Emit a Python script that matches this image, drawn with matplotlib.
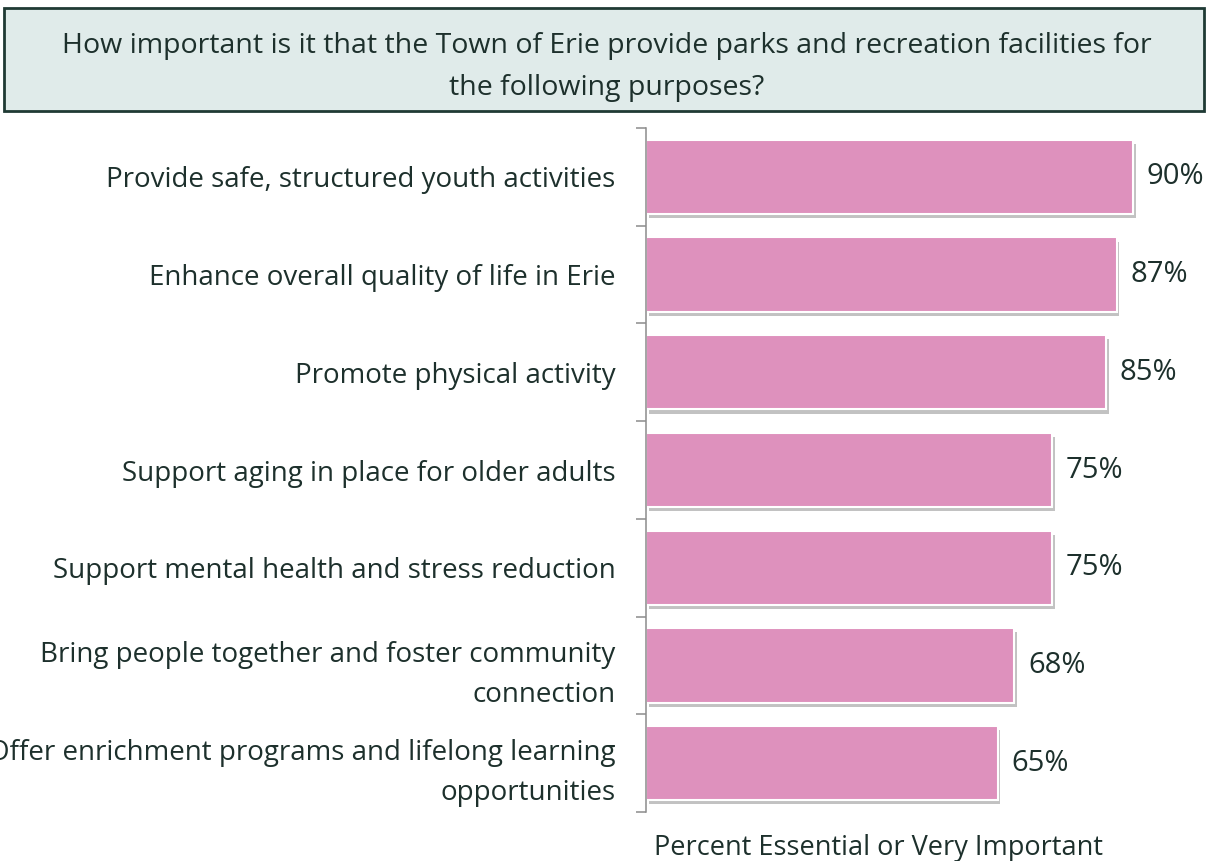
import matplotlib
matplotlib.use('Agg')
import matplotlib.pyplot as plt
import matplotlib.patheffects as pe
from matplotlib.patches import Rectangle

categories = [
    "Provide safe, structured youth activities",
    "Enhance overall quality of life in Erie",
    "Promote physical activity",
    "Support aging in place for older adults",
    "Support mental health and stress reduction",
    "Bring people together and foster community\nconnection",
    "Offer enrichment programs and lifelong learning\nopportunities",
]
values = [90, 87, 85, 75, 75, 68, 65]
title = ("How important is it that the Town of Erie provide parks and recreation facilities for\n"
         "the following purposes?")
xlabel = "Percent Essential or Very Important"

W, H = 1209, 861
text_color = '#1d302c'
bar_color = '#de91bd'
plt.rcParams['font.family'] = ['Open Sans', 'DejaVu Sans']

fig = plt.figure(figsize=(W / 100, H / 100), dpi=100)

# title box
fig.patches.append(Rectangle((4 / W, 1 - 111 / H), 1200 / W, 103 / H, transform=fig.transFigure,
                             facecolor='#e0ebea', edgecolor='#1f3a34', linewidth=2, zorder=0))
fig.text(607 / W, 1 - 67 / H, title, ha='center', va='center', fontsize=20.5,
         color=text_color, linespacing=1.64)

ax = fig.add_axes([646 / W, 1 - 812 / H, 541 / W, 684 / H])
y = list(range(len(categories)))
bars = ax.barh(y, values, height=0.76, color=bar_color, edgecolor='white', linewidth=1.5)
for b in bars:
    b.set_path_effects([pe.SimplePatchShadow(offset=(2, -3), shadow_rgbFace='#9a9a9a', alpha=0.6),
                        pe.Normal()])
for yi, v in zip(y, values):
    ax.text(v + 2.6, yi, f"{v}%", va='center', ha='left', fontsize=21, color=text_color)

ax.set_xlim(0, 100)
ax.set_ylim(len(categories) - 0.5, -0.5)
ax.set_yticks([i - 0.5 for i in range(len(categories) + 1)])
ax.set_yticklabels([])
ax.set_yticks(y, minor=True)
ax.set_yticklabels(categories, minor=True, fontsize=20, color=text_color, linespacing=1.58)
ax.tick_params(axis='y', which='major', length=7, width=1.1, color='#8c8c8c')
ax.tick_params(axis='y', which='minor', length=0, pad=22)
ax.set_xticks([])
for s in ['top', 'right', 'bottom']:
    ax.spines[s].set_visible(False)
ax.spines['left'].set_color('#8c8c8c')
ax.spines['left'].set_linewidth(1.1)

ax.set_xlabel(xlabel, fontsize=19.5, color=text_color)
ax.xaxis.set_label_coords((878 - 646) / 541, -(855 - 812) / 684, transform=ax.transAxes)
ax.xaxis.label.set_va('baseline')

fig.savefig('out.png', dpi=100)
